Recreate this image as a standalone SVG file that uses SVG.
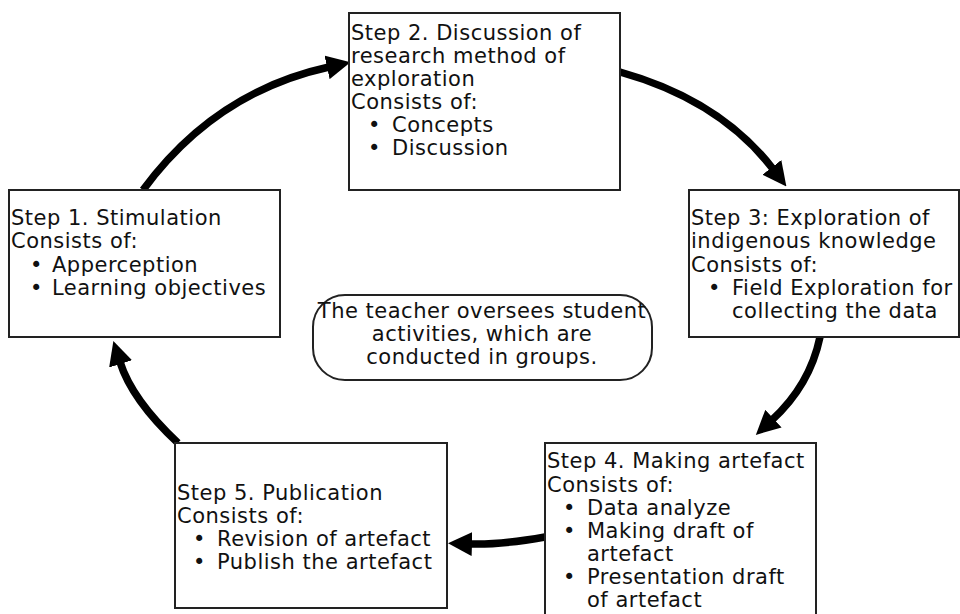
<svg xmlns="http://www.w3.org/2000/svg" width="960" height="614" viewBox="0 0 960 614">
<style>
.box{fill:#fff;stroke:#222;stroke-width:2}
.t{font-family:"DejaVu Sans","Liberation Sans",sans-serif;font-size:21px;letter-spacing:0.5px;fill:#111}
.c{text-anchor:middle}
.conn{fill:none;stroke:#000;stroke-width:7.5}
</style>
<defs>
<marker id="ah" markerUnits="userSpaceOnUse" markerWidth="24" markerHeight="24" refX="2" refY="12" orient="auto" viewBox="0 0 24 24">
<path d="M0,0 L24,12 L0,24 z" fill="#000"/>
</marker>
</defs>
<rect width="960" height="614" fill="#fff"/>
<g id="connectors">
<path class="conn" d="M143,190 Q215,92 329,67" marker-end="url(#ah)"/>
<path class="conn" d="M620,72 Q720,100 773,169" marker-end="url(#ah)"/>
<path class="conn" d="M820,337 Q810,385 772,420" marker-end="url(#ah)"/>
<path class="conn" d="M545,537 Q500,545 470,544" marker-end="url(#ah)"/>
<path class="conn" d="M178,443 Q132,400 120,362" marker-end="url(#ah)"/>
</g>
<g id="step2">
<rect class="box" x="349" y="13" width="271" height="177"/>
<text class="t" x="351" y="40">Step 2. Discussion of</text>
<text class="t" x="351" y="63">research method of</text>
<text class="t" x="351" y="86">exploration</text>
<text class="t" x="351" y="109">Consists of:</text>
<text class="t" x="368" y="132">•<tspan x="392">Concepts</tspan></text>
<text class="t" x="368" y="155">•<tspan x="392">Discussion</tspan></text>
</g>
<g id="step1">
<rect class="box" x="9" y="190" width="271" height="147"/>
<text class="t" x="11" y="225">Step 1. Stimulation</text>
<text class="t" x="11" y="248">Consists of:</text>
<text class="t" x="30" y="272">•<tspan x="52">Apperception</tspan></text>
<text class="t" x="30" y="295">•<tspan x="52">Learning objectives</tspan></text>
</g>
<g id="step3">
<rect class="box" x="689" y="190" width="270" height="147"/>
<text class="t" x="691" y="225">Step 3: Exploration of</text>
<text class="t" x="691" y="248">indigenous knowledge</text>
<text class="t" x="691" y="272">Consists of:</text>
<text class="t" x="708" y="295">•<tspan x="732">Field Exploration for</tspan></text>
<text class="t" x="732" y="318">collecting the data</text>
</g>
<g id="center">
<rect class="box" x="313" y="295" width="339" height="85" rx="32"/>
<text class="t c" x="482" y="318">The teacher oversees student</text>
<text class="t c" x="482" y="341">activities, which are</text>
<text class="t c" x="482" y="364">conducted in groups.</text>
</g>
<g id="step4">
<rect class="box" x="545" y="443" width="271" height="180"/>
<text class="t" x="547" y="468">Step 4. Making artefact</text>
<text class="t" x="547" y="492">Consists of:</text>
<text class="t" x="563" y="515">•<tspan x="587">Data analyze</tspan></text>
<text class="t" x="563" y="538">•<tspan x="587">Making draft of</tspan></text>
<text class="t" x="587" y="561">artefact</text>
<text class="t" x="563" y="584">•<tspan x="587">Presentation draft</tspan></text>
<text class="t" x="587" y="607">of artefact</text>
</g>
<g id="step5">
<rect class="box" x="175" y="443" width="272" height="165"/>
<text class="t" x="177" y="500">Step 5. Publication</text>
<text class="t" x="177" y="523">Consists of:</text>
<text class="t" x="193" y="546">•<tspan x="217">Revision of artefact</tspan></text>
<text class="t" x="193" y="569">•<tspan x="217">Publish the artefact</tspan></text>
</g>
</svg>
